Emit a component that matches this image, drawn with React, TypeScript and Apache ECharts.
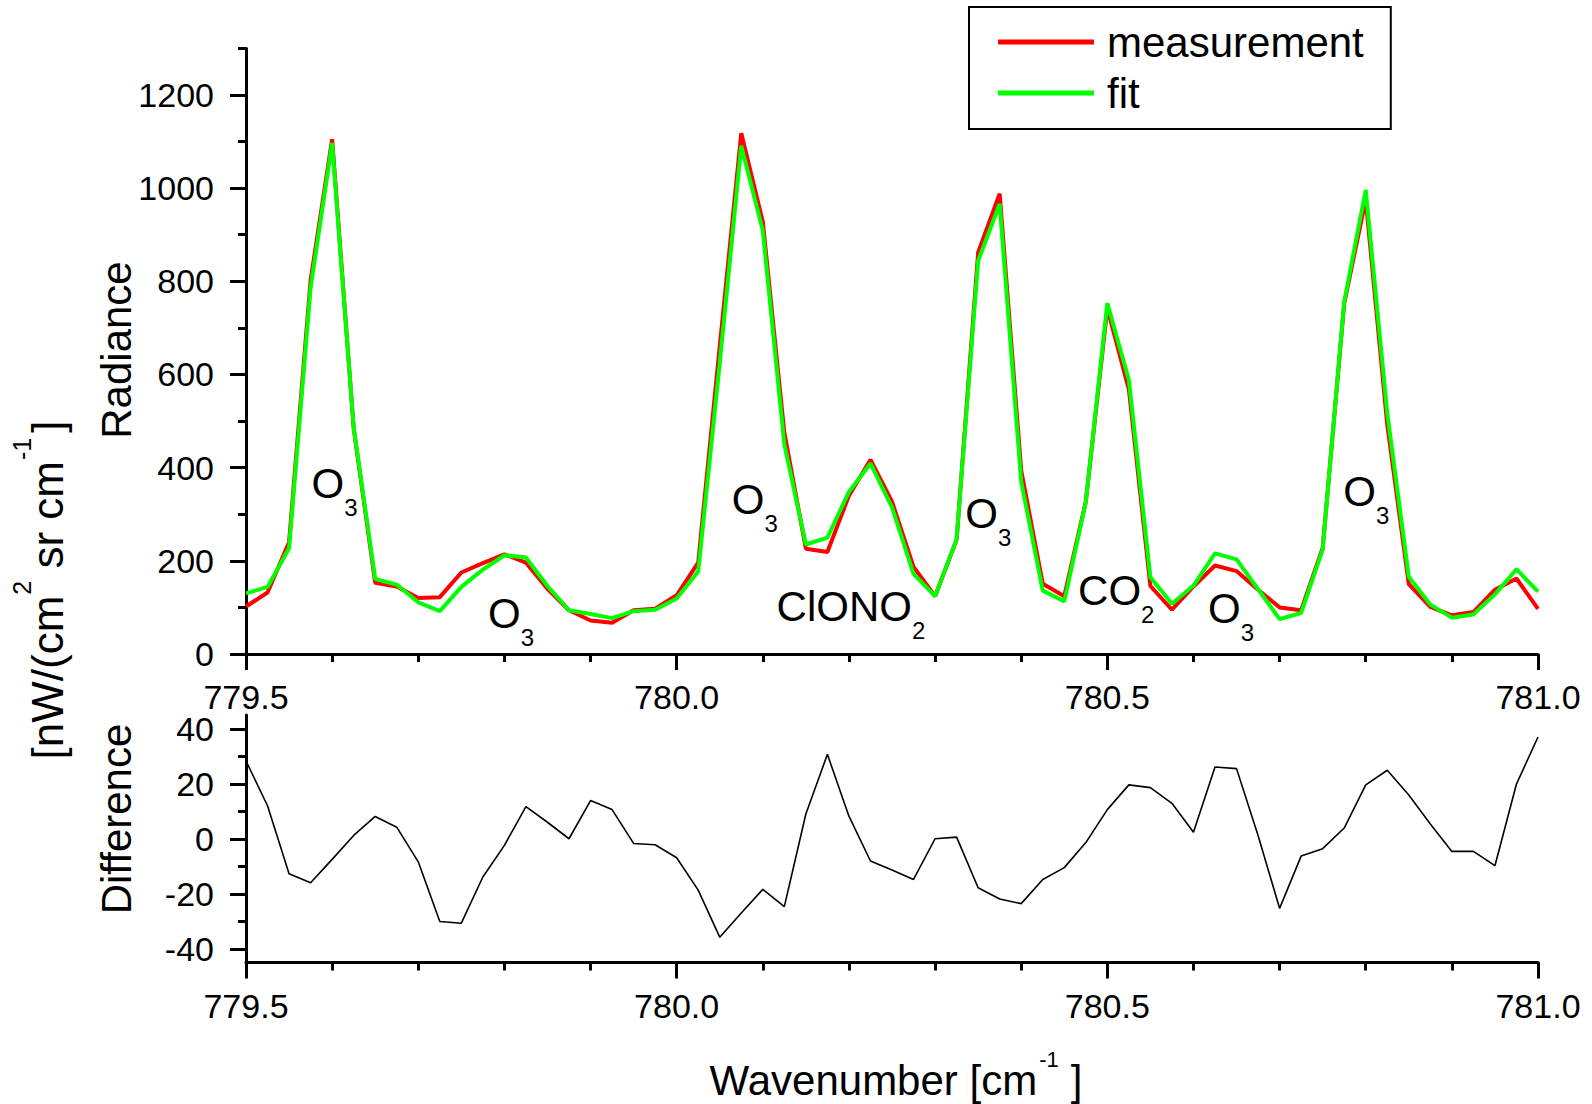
import React, { useEffect, useRef } from "react";
import * as echarts from "echarts";

// Spectral sampling grid [cm^-1]
const wavenumber = [
  779.5, 779.525, 779.55, 779.575, 779.6, 779.625, 779.65, 779.675, 779.7, 779.725,
  779.75, 779.775, 779.8, 779.825, 779.85, 779.875, 779.9, 779.925, 779.95, 779.975,
  780.0, 780.025, 780.05, 780.075, 780.1, 780.125, 780.15, 780.175, 780.2, 780.225,
  780.25, 780.275, 780.3, 780.325, 780.35, 780.375, 780.4, 780.425, 780.45, 780.475,
  780.5, 780.525, 780.55, 780.575, 780.6, 780.625, 780.65, 780.675, 780.7, 780.725,
  780.75, 780.775, 780.8, 780.825, 780.85, 780.875, 780.9, 780.925, 780.95, 780.975,
  781.0,
];

// Measured radiance [nW/(cm2 sr cm-1)]
const measurement = [
  102, 132, 240, 802, 1105, 485, 153, 145, 120, 122,
  175, 195, 214, 196, 140, 94, 72, 67, 94, 97,
  126, 196, 660, 1118, 928, 475, 226, 219, 340, 417,
  327, 187, 124, 245, 862, 988, 394, 151, 124, 327,
  742, 568, 146, 95, 145, 190, 178, 138, 100, 94,
  228, 752, 976, 492, 150, 101, 83, 90, 138, 162,
  97,
];

// Fitted radiance
const fit = [
  130, 144, 227, 786, 1097, 486, 161, 149, 111, 92,
  144, 181, 212, 207, 146, 94, 86, 77, 92, 95,
  119, 177, 624, 1091, 909, 450, 235, 250, 348, 409,
  315, 172, 124, 246, 844, 966, 370, 136, 113, 326,
  753, 588, 165, 108, 147, 216, 203, 139, 75, 88,
  224, 756, 996, 517, 166, 106, 78, 85, 128, 182,
  134,
];

// Fit minus measurement
const difference = [
  28.3, 12.0, -12.7, -16.0, -7.5, 1.2, 8.1, 4.2, -8.4, -30.1,
  -30.7, -13.9, -2.4, 11.7, 6.0, 0.0, 13.9, 10.6, -1.7, -2.2,
  -6.9, -18.7, -35.8, -27.0, -18.4, -24.7, 9.0, 30.7, 8.2, -8.1,
  -11.4, -14.8, 0.0, 0.6, -17.8, -21.9, -23.6, -14.8, -10.5, -1.4,
  10.6, 19.6, 18.6, 12.9, 2.4, 26.1, 25.5, 1.2, -25.3, -6.3,
  -3.6, 3.9, 19.6, 24.9, 15.9, 5.4, -4.6, -4.6, -9.8, 19.9,
  37.0,
];

// Axis tick values
const radianceMajorTicks = [0, 200, 400, 600, 800, 1000, 1200];
const differenceMajorTicks = [-40, -20, 0, 20, 40];
const differenceMinorTicks = [-40, -30, -20, -10, 0, 10, 20, 30, 40];

// Line assignments: species name, subscript, anchor in (wavenumber, radiance)
const annotationNames = ["O", "O", "O", "ClONO", "O", "CO", "O", "O"];
const annotationSubs = ["3", "3", "3", "2", "3", "2", "3", "3"];
const annotationX = [779.576, 779.781, 780.064, 780.116, 780.335, 780.466, 780.617, 780.774];
const annotationY = [365, 86, 331, 103, 302, 136, 98, 348];

const FONT = "'Liberation Sans', Arial, Helvetica, sans-serif";
const BLACK = "#000";

let measureCtx: CanvasRenderingContext2D | null = null;
function textWidth(s: string, size: number): number {
  if (!measureCtx) measureCtx = document.createElement("canvas").getContext("2d");
  if (!measureCtx) return s.length * size * 0.55;
  measureCtx.font = `${size}px ${FONT}`;
  return measureCtx.measureText(s).width;
}

type Run = { t: string; size: number; dy?: number; gap?: number };

// Lay out text runs (with sub/superscripts) along one line inside a group
function runGroup(runs: Run[], x: number, y: number, rotation: number, center: boolean) {
  let cursor = 0;
  const children: any[] = [];
  runs.forEach((r) => {
    cursor += r.gap ?? 0;
    children.push({
      type: "text",
      x: cursor,
      y: r.dy ?? 0,
      style: {
        text: r.t,
        fontSize: r.size,
        fontFamily: FONT,
        fill: BLACK,
        align: "left",
        verticalAlign: "middle",
        textAlign: "left",
        textVerticalAlign: "middle",
      },
    });
    cursor += textWidth(r.t, r.size);
  });
  if (center) children.forEach((c) => (c.x -= cursor / 2));
  return { type: "group", x, y, rotation, children };
}

function xAxisFor(gridIndex: number) {
  return {
    type: "value",
    gridIndex,
    min: 779.5,
    max: 781.0,
    interval: 0.5,
    axisLine: { show: true, onZero: false, lineStyle: { color: BLACK, width: 3 } },
    axisTick: { show: true, inside: false, length: 16, lineStyle: { color: BLACK, width: 3 } },
    minorTick: { show: true, splitNumber: 5, length: 8, lineStyle: { color: BLACK, width: 3 } },
    axisLabel: {
      show: true,
      fontSize: 34,
      margin: 26,
      color: BLACK,
      fontFamily: FONT,
      showMinLabel: true,
      showMaxLabel: true,
      formatter: (v: number) => v.toFixed(1),
    },
    splitLine: { show: false },
    minorSplitLine: { show: false },
  };
}

export default function App() {
  const ref = useRef<HTMLDivElement>(null);

  useEffect(() => {
    if (!ref.current) return;
    const chart = echarts.init(ref.current, null, { renderer: "svg" });

    const option: any = {
      animation: false,
      backgroundColor: "#fff",
      textStyle: { fontFamily: FONT },
      grid: [
        { left: 246, top: 48.4, width: 1292, height: 605.6 },
        { left: 246, top: 715, width: 1292, height: 247.5 },
      ],
      xAxis: [xAxisFor(0), xAxisFor(1)],
      yAxis: [
        {
          type: "value",
          gridIndex: 0,
          min: 0,
          max: 1300,
          interval: 100,
          position: "left",
          axisLine: { show: true, onZero: false, lineStyle: { color: BLACK, width: 3 } },
          axisTick: { show: true, length: 8, lineStyle: { color: BLACK, width: 3 } },
          axisLabel: { show: false },
          splitLine: { show: false },
        },
        {
          type: "value",
          gridIndex: 0,
          min: 0,
          max: 1300,
          interval: 200,
          position: "left",
          axisLine: { show: false },
          axisTick: { show: true, length: 16, customValues: radianceMajorTicks, lineStyle: { color: BLACK, width: 3 } },
          axisLabel: {
            fontSize: 34,
            margin: 32,
            color: BLACK,
            fontFamily: FONT,
            customValues: radianceMajorTicks,
            formatter: (v: number) => (v % 200 === 0 && v <= 1200 ? String(v) : ""),
          },
          splitLine: { show: false },
        },
        {
          type: "value",
          gridIndex: 1,
          min: -45,
          max: 45,
          position: "left",
          axisLine: { show: true, onZero: false, lineStyle: { color: BLACK, width: 3 } },
          axisTick: { show: true, length: 8, customValues: differenceMinorTicks, lineStyle: { color: BLACK, width: 3 } },
          axisLabel: { show: false },
          splitLine: { show: false },
        },
        {
          type: "value",
          gridIndex: 1,
          min: -45,
          max: 45,
          position: "left",
          axisLine: { show: false },
          axisTick: { show: true, length: 16, customValues: differenceMajorTicks, lineStyle: { color: BLACK, width: 3 } },
          axisLabel: {
            fontSize: 34,
            margin: 32,
            color: BLACK,
            fontFamily: FONT,
            customValues: differenceMajorTicks,
          },
          splitLine: { show: false },
        },
      ],
      legend: {
        left: 969,
        top: 7,
        orient: "vertical",
        padding: [14, 27, 15, 29],
        itemGap: 9,
        itemWidth: 96,
        itemHeight: 5,
        icon: "rect",
        borderColor: BLACK,
        borderWidth: 2,
        borderRadius: 0,
        backgroundColor: "#fff",
        textStyle: { fontSize: 42, color: BLACK, fontFamily: FONT, padding: [0, 0, 0, 8] },
        data: ["measurement", "fit"],
      },
      series: [
        {
          name: "measurement",
          type: "line",
          xAxisIndex: 0,
          yAxisIndex: 0,
          data: wavenumber.map((x, i) => [x, measurement[i]]),
          color: "#ff0000",
          symbol: "none",
          lineStyle: { color: "#ff0000", width: 4 },
          z: 3,
        },
        {
          name: "fit",
          type: "line",
          xAxisIndex: 0,
          yAxisIndex: 0,
          data: wavenumber.map((x, i) => [x, fit[i]]),
          color: "#00ff00",
          symbol: "none",
          lineStyle: { color: "#00ff00", width: 4 },
          z: 4,
        },
        {
          name: "difference",
          type: "line",
          xAxisIndex: 1,
          yAxisIndex: 2,
          data: wavenumber.map((x, i) => [x, difference[i]]),
          color: BLACK,
          symbol: "none",
          lineStyle: { color: BLACK, width: 1.6 },
        },
      ],
    };

    chart.setOption(option);

    const graphics: any[] = [];
    annotationNames.forEach((name, i) => {
      const p = chart.convertToPixel({ xAxisIndex: 0, yAxisIndex: 0 }, [annotationX[i], annotationY[i]]) as number[];
      graphics.push(
        runGroup(
          [
            { t: name, size: 42 },
            { t: annotationSubs[i], size: 24, dy: 24, gap: 0 },
          ],
          p[0],
          p[1],
          0,
          false
        )
      );
    });

    // Axis titles
    graphics.push(
      runGroup(
        [
          { t: "Wavenumber [cm", size: 42 },
          { t: "-1", size: 22, dy: -21, gap: 2 },
          { t: "]", size: 42, gap: 12 },
        ],
        896,
        1080,
        0,
        true
      )
    );
    graphics.push(runGroup([{ t: "Radiance", size: 42 }], 116, 350, Math.PI / 2, true));
    graphics.push(runGroup([{ t: "Difference", size: 42 }], 116, 819, Math.PI / 2, true));
    graphics.push(
      runGroup(
        [
          { t: "[nW/(cm", size: 44 },
          { t: "2", size: 25, dy: -25, gap: 1 },
          { t: " sr cm", size: 44, gap: 0 },
          { t: "-1", size: 25, dy: -25, gap: 1 },
          { t: "]", size: 44, gap: 5 },
        ],
        47,
        590,
        Math.PI / 2,
        true
      )
    );

    chart.setOption({ graphic: { elements: graphics } });

    return () => chart.dispose();
  }, []);

  return (
    <div
      ref={ref}
      style={{ position: "fixed", left: 0, top: 0, width: 1592, height: 1104, background: "#fff" }}
    />
  );
}
